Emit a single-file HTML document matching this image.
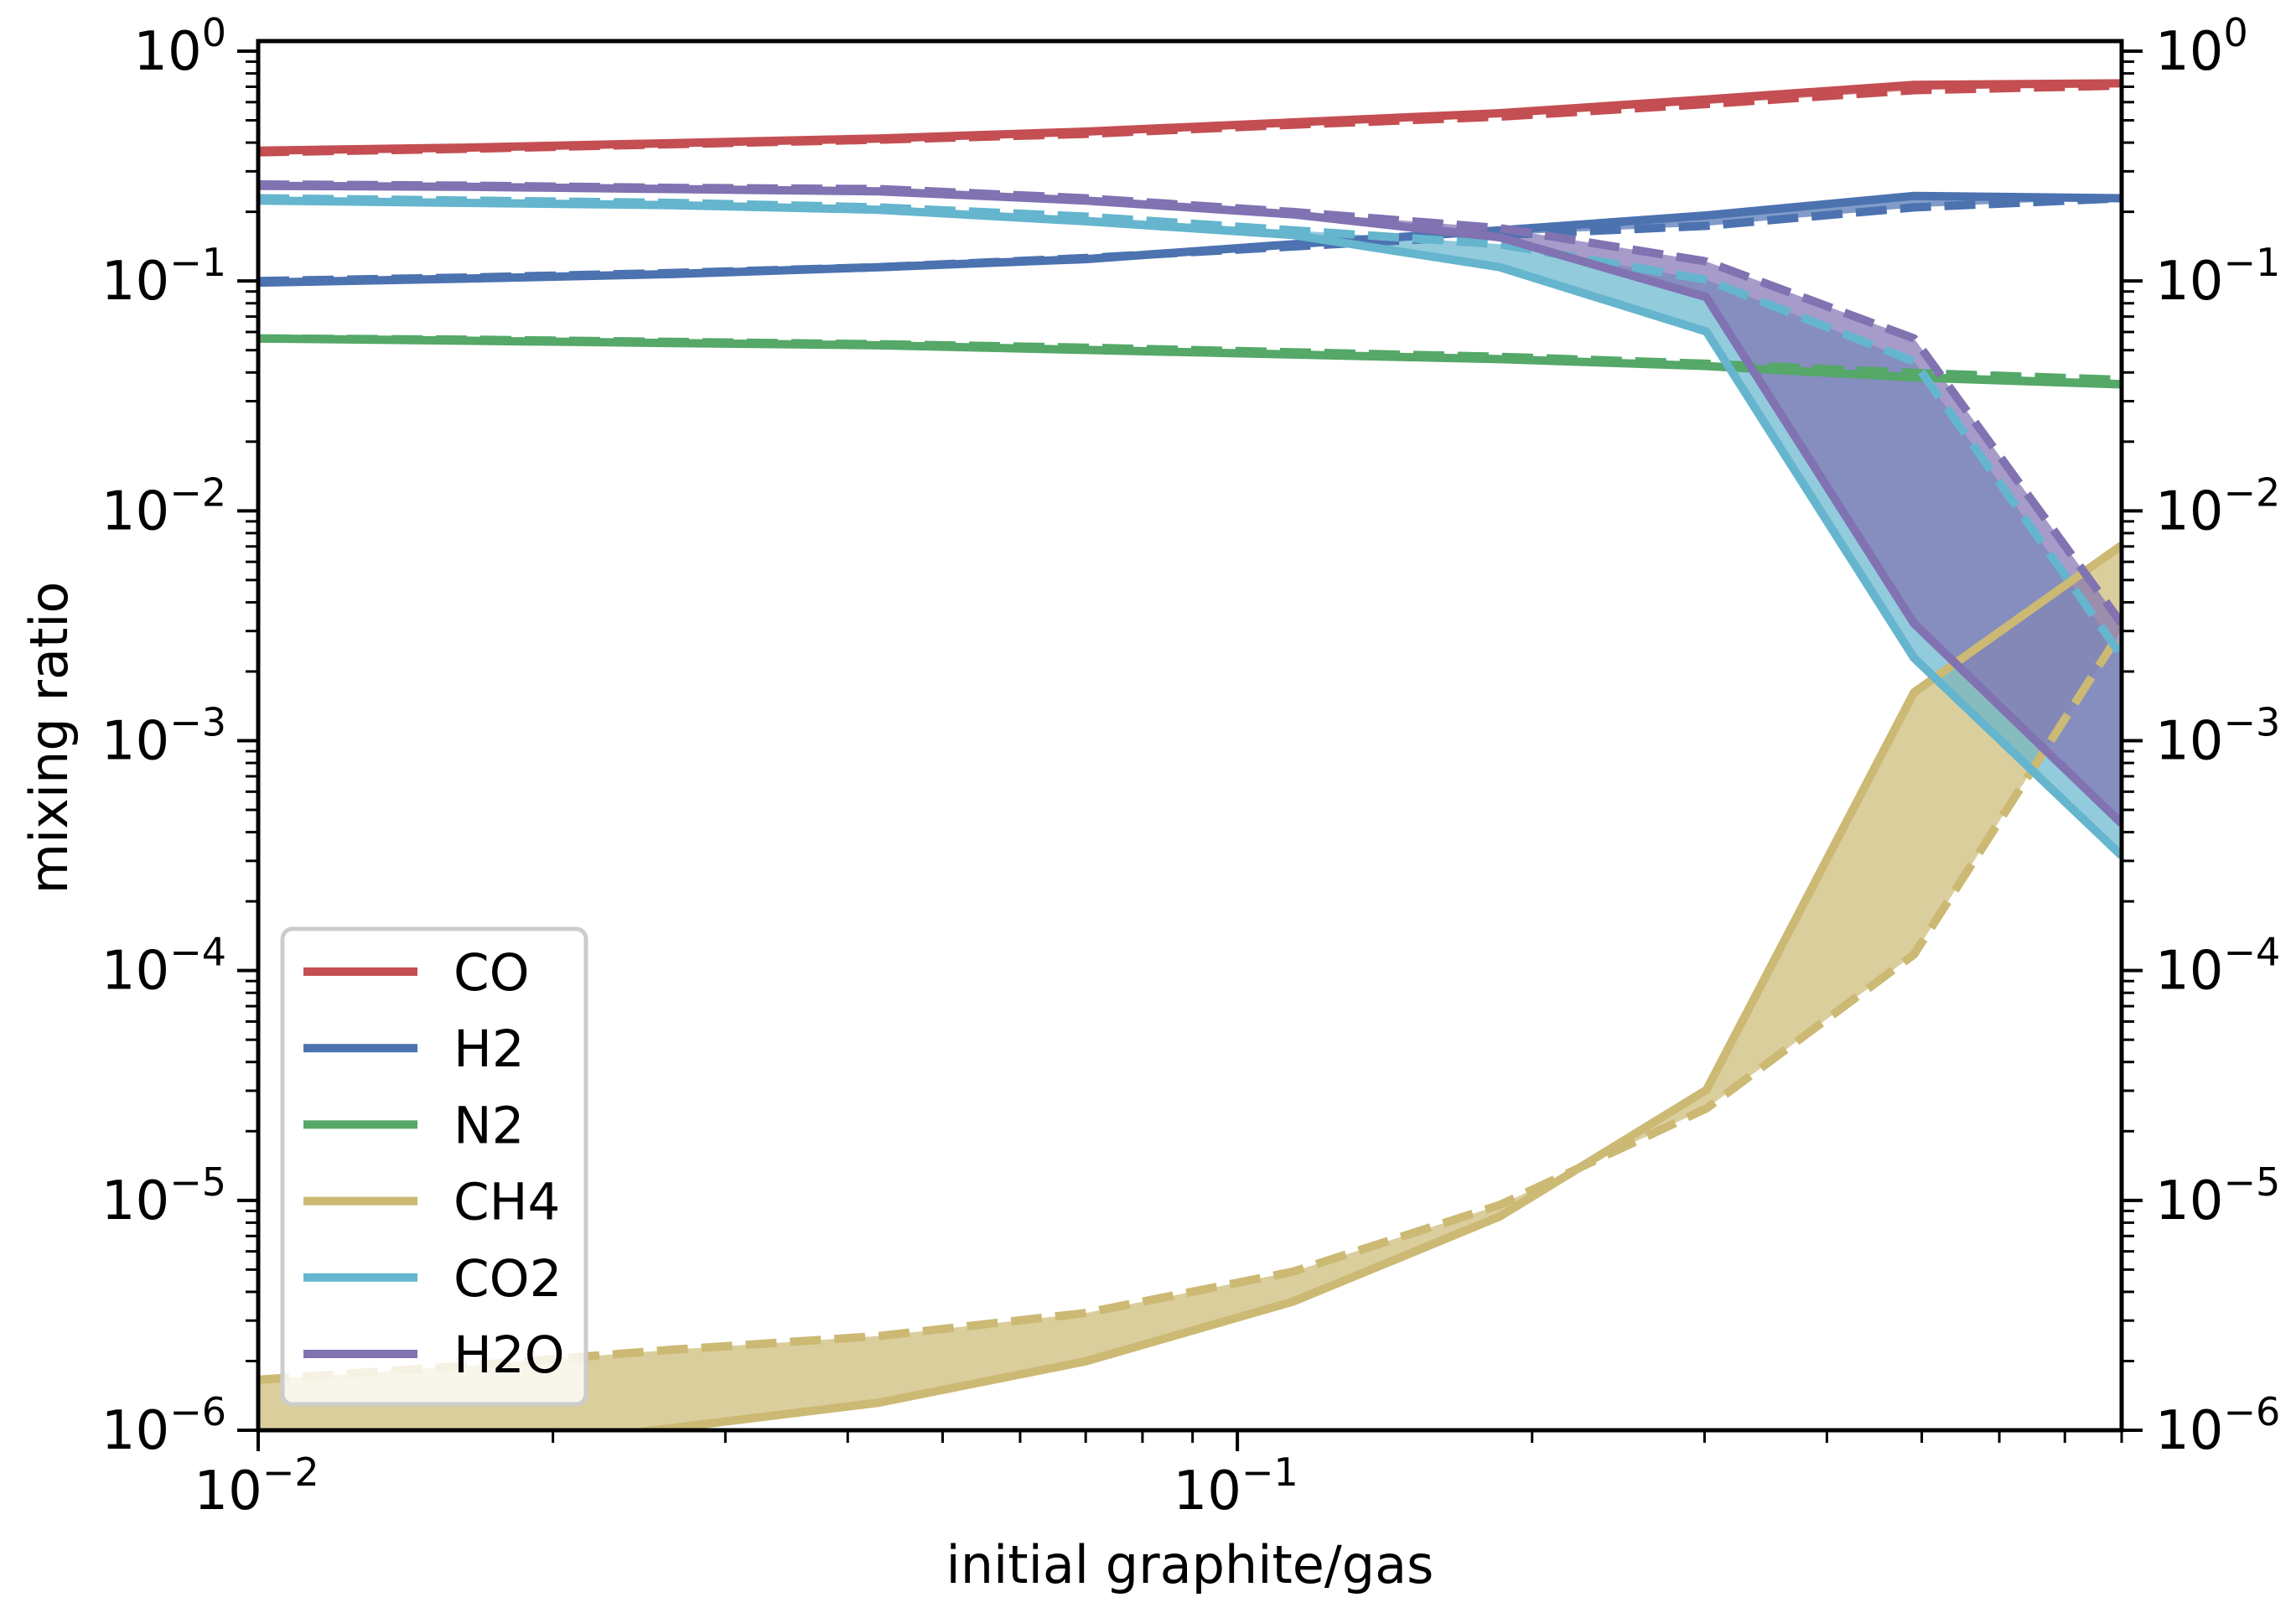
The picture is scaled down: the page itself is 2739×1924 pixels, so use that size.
<!DOCTYPE html>
<html><head><meta charset="utf-8"><style>
html,body{margin:0;padding:0;background:#fff;}
svg{display:block;}
text{font-family:"DejaVu Sans","Liberation Sans",sans-serif;fill:#000;}
</style></head><body>
<svg id="chart" width="2739" height="1924" viewBox="0 0 2739 1924" xmlns="http://www.w3.org/2000/svg">
<g id="fills"></g>
<g id="lines"></g>
<g id="axes"></g>
<g id="legend"></g>
</svg>
<script>
// x values (log10 of initial graphite/gas)
const xLog = [-2, -1.789, -1.577, -1.366, -1.155, -0.943, -0.732, -0.521, -0.309, -0.097];
const species = ["CO", "H2", "N2", "CH4", "CO2", "H2O"];
const colors = ["#C44E52", "#4C72B0", "#55A868", "#CCB974", "#64B5CD", "#8172B2"];
// log10 mixing ratio, solid lines
const coSolid  = [-0.433,-0.42,-0.40,-0.38,-0.35,-0.31,-0.27,-0.21,-0.147,-0.14];
const h2Solid  = [-1.007,-0.99,-0.97,-0.94,-0.905,-0.84,-0.78,-0.715,-0.63,-0.64];
const n2Solid  = [-1.25,-1.26,-1.27,-1.28,-1.30,-1.32,-1.34,-1.37,-1.42,-1.45];
const ch4Solid = [-6.2,-6.1,-5.99,-5.88,-5.70,-5.44,-5.07,-4.52,-2.79,-2.15];
const co2Solid = [-0.65,-0.66,-0.67,-0.69,-0.74,-0.80,-0.94,-1.22,-2.64,-3.5];
const h2oSolid = [-0.586,-0.59,-0.60,-0.61,-0.65,-0.71,-0.81,-1.07,-2.49,-3.36];
// log10 mixing ratio, dashed lines
const coDash  = [-0.44,-0.425,-0.405,-0.385,-0.36,-0.32,-0.285,-0.23,-0.17,-0.15];
const h2Dash  = [-1.0,-0.985,-0.965,-0.94,-0.9,-0.85,-0.80,-0.76,-0.68,-0.64];
const n2Dash  = [-1.25,-1.255,-1.265,-1.275,-1.29,-1.31,-1.33,-1.36,-1.40,-1.43];
const ch4Dash = [-5.78,-5.72,-5.65,-5.59,-5.49,-5.31,-5.02,-4.60,-3.93,-2.52];
const co2Dash = [-0.64,-0.65,-0.66,-0.68,-0.72,-0.78,-0.84,-0.995,-1.35,-2.63];
const h2oDash = [-0.58,-0.585,-0.595,-0.60,-0.64,-0.70,-0.77,-0.915,-1.25,-2.49];
const yTickExp = [0,-1,-2,-3,-4,-5,-6];
const xTickExp = [-2,-1];

const solids=[coSolid,h2Solid,n2Solid,ch4Solid,co2Solid,h2oSolid];
const dashes=[coDash,h2Dash,n2Dash,ch4Dash,co2Dash,h2oDash];
const L=308,R=2531,T=49,B=1706;
const xMin=-2,xMax=Math.log10(0.8),yMin=-6,yTopTick=61,decY=(B-yTopTick)/6;
function X(v){return L+(v-xMin)/(xMax-xMin)*(R-L);}
function Y(v){return B-(v-yMin)*decY;}
const NS="http://www.w3.org/2000/svg";
function mk(tag,attrs,parent){const e=document.createElementNS(NS,tag);for(const k in attrs)e.setAttribute(k,attrs[k]);parent.appendChild(e);return e;}
const svg=document.getElementById('chart');
const defs=mk('defs',{},svg);
const cp=mk('clipPath',{id:'clip'},defs);
mk('rect',{x:L,y:T,width:R-L,height:B-T},cp);
const fills=document.getElementById('fills');fills.setAttribute('clip-path','url(#clip)');
const lines=document.getElementById('lines');lines.setAttribute('clip-path','url(#clip)');
function pts(a){return a.map((v,i)=>X(xLog[i]).toFixed(1)+','+Y(v).toFixed(1)).join(' ');}
for(let s=0;s<species.length;s++){
  const poly=pts(solids[s])+' '+dashes[s].map((v,i)=>[X(xLog[i]),Y(v)]).reverse().map(p=>p[0].toFixed(1)+','+p[1].toFixed(1)).join(' ');
  const f=mk('polygon',{points:poly,fill:colors[s],'fill-opacity':0.7,stroke:'none'},fills);
  
  
}
for(let s=0;s<species.length;s++){
  const d=mk('polyline',{points:pts(dashes[s]),fill:'none',stroke:colors[s],'stroke-width':10,'stroke-dasharray':'37,16','stroke-linejoin':'round'},lines);
  
  
  const l=mk('polyline',{points:pts(solids[s]),fill:'none',stroke:colors[s],'stroke-width':10,'stroke-linejoin':'round'},lines);
  
  
}
const axes=document.getElementById('axes');
for(const e of yTickExp){
  const y=Y(e);
  mk('line',{x1:L-25,x2:L,y1:y,y2:y,stroke:'#000','stroke-width':4},axes);
  mk('line',{x1:R,x2:R+25,y1:y,y2:y,stroke:'#000','stroke-width':4},axes);
  for(const side of [0,1]){
    const t=mk('text',{x:side?R+40:L-38,y:y+22,'font-size':64,'text-anchor':side?'start':'end'},axes);
    
    
    t.appendChild(document.createTextNode('10'));
    const sp=document.createElementNS(NS,'tspan');sp.setAttribute('dy','-28');sp.setAttribute('font-size','46');
    sp.textContent=(e<0?'\u2212'+(-e):''+e);t.appendChild(sp);
  }
  if(e>yMin){for(let m=2;m<=9;m++){const yy=Y(e-1+Math.log10(m));
    mk('line',{x1:L-15,x2:L,y1:yy,y2:yy,stroke:'#000','stroke-width':3},axes);
    mk('line',{x1:R,x2:R+15,y1:yy,y2:yy,stroke:'#000','stroke-width':3},axes);}}
}
for(const e of xTickExp){
  const x=X(e);
  mk('line',{x1:x,x2:x,y1:B,y2:B+25,stroke:'#000','stroke-width':4},axes);
  const t=mk('text',{x:x-2,y:1800,'font-size':64,'text-anchor':'middle'},axes);
  
  
  t.appendChild(document.createTextNode('10'));
  const sp=document.createElementNS(NS,'tspan');sp.setAttribute('dy','-28');sp.setAttribute('font-size','46');
  sp.textContent='\u2212'+(-e);t.appendChild(sp);
  for(let m=2;m<=9;m++){const v=e+Math.log10(m);if(v>xMax+1e-6)break;const xx=X(v);
    mk('line',{x1:xx,x2:xx,y1:B,y2:B+15,stroke:'#000','stroke-width':3},axes);}
}
const fr=mk('rect',{x:L,y:T,width:R-L,height:B-T,fill:'none',stroke:'#000','stroke-width':5},axes);


const xt=mk('text',{x:(L+R)/2,y:1888,'font-size':62,'text-anchor':'middle'},axes);


xt.textContent='initial graphite/gas';
const yt=mk('text',{x:0,y:0,'font-size':62,'text-anchor':'middle',transform:'translate(80,880) rotate(-90)'},axes);


yt.textContent='mixing ratio';
const lg=document.getElementById('legend');
const box=mk('rect',{x:337,y:1108,width:362,height:567,rx:12,fill:'#fff','fill-opacity':0.8,stroke:'#cccccc','stroke-width':5},lg);


for(let s=0;s<species.length;s++){
  const y=1159+s*91.2;
  const g=mk('g',{},lg);
  
  
  mk('line',{x1:362,x2:498,y1:y,y2:y,stroke:colors[s],'stroke-width':10},g);
  const t=mk('text',{x:541,y:y+22,'font-size':61},g);
  t.textContent=species[s];
}
</script>
</body></html>
